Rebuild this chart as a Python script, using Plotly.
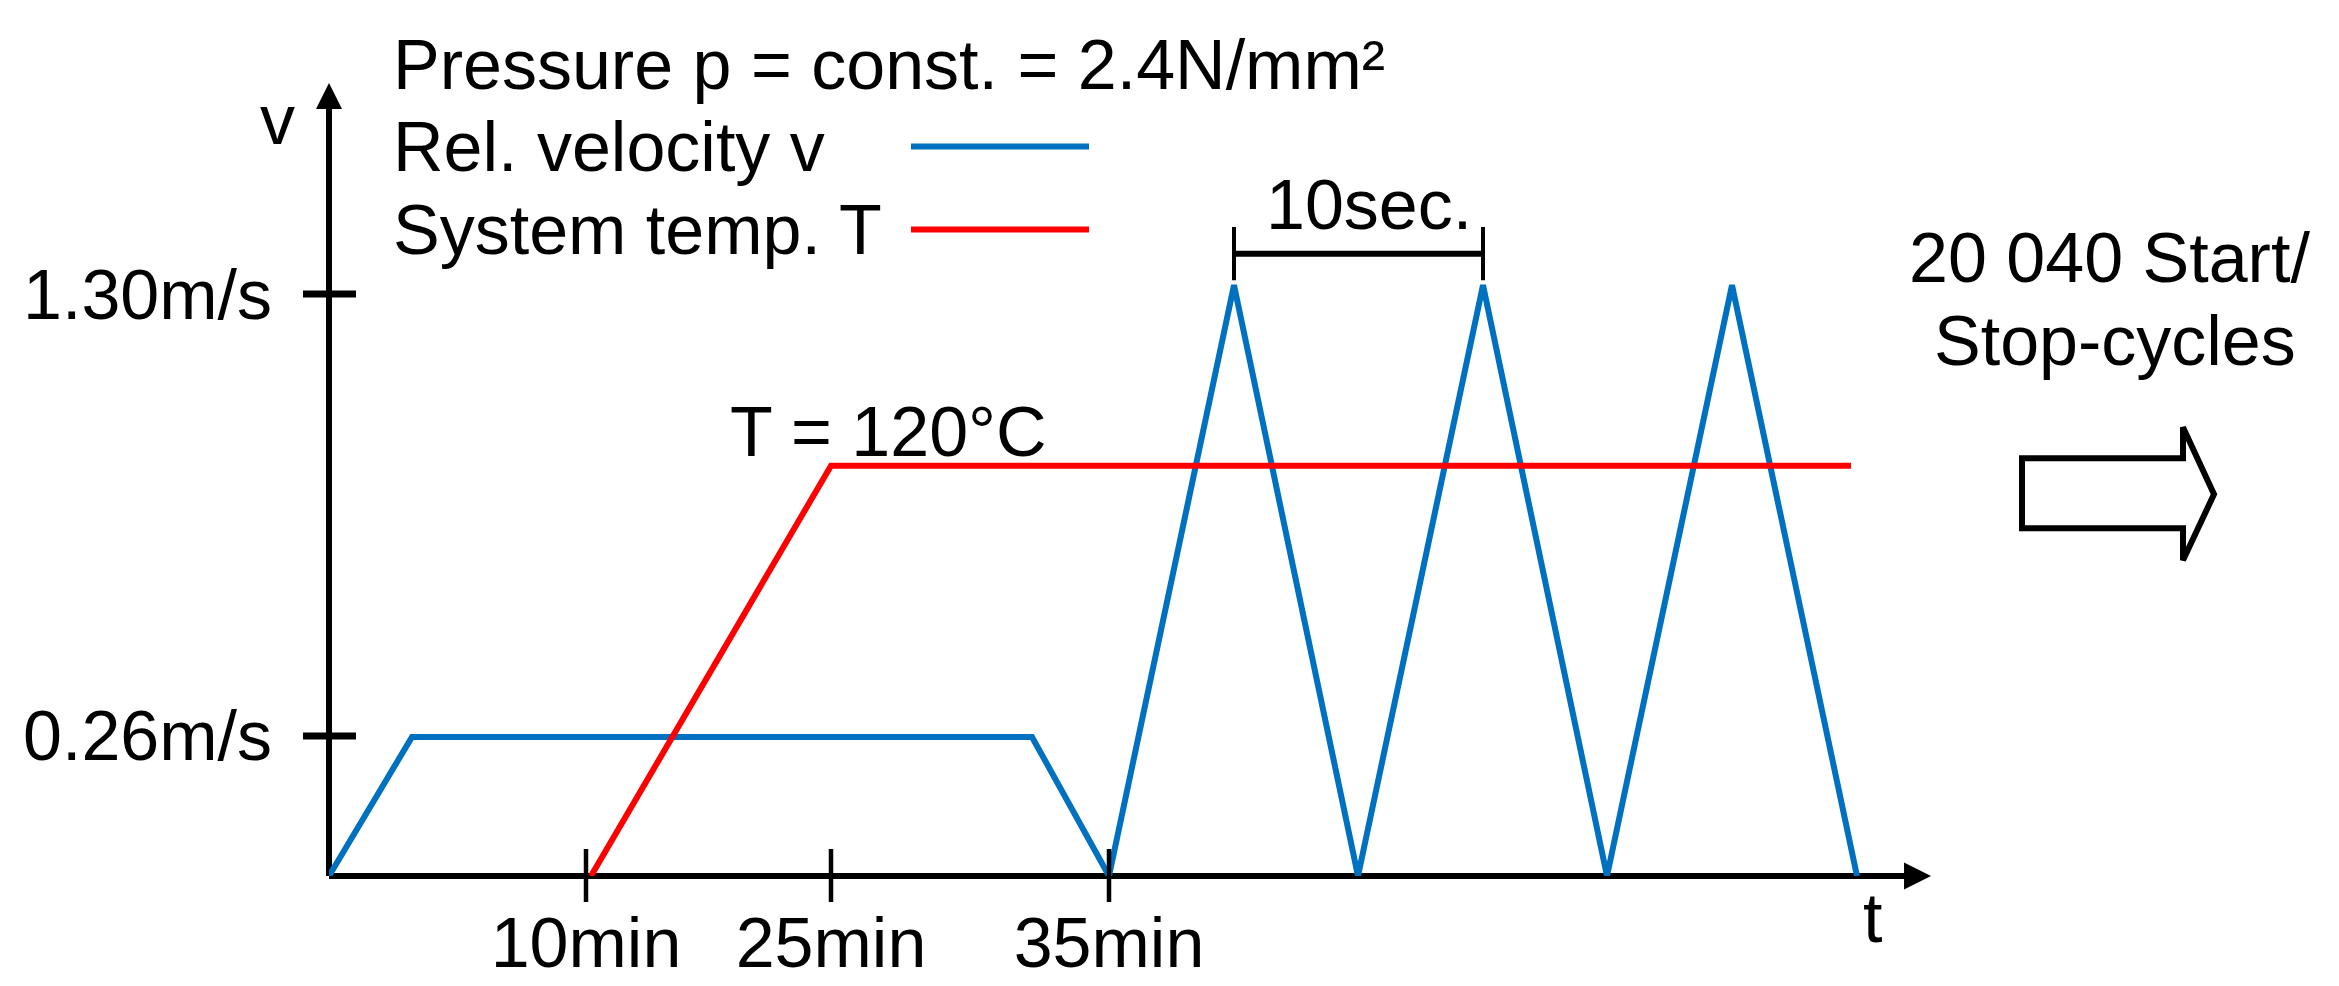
import plotly.graph_objects as go

# schematic units: 1 unit = 10 px of the original drawing
v_t = [0, 8.3, 70.3, 78.0, 90.5, 102.9, 115.4, 127.8, 140.3, 152.8]
v_level = [0, 14.1, 14.1, 0, 59.9, 0, 59.9, 0, 59.9, 0]

temp_t = [26.2, 50.2, 152.2]
temp_level = [0, 41.6, 41.6]

x_tick_pos = [25.7, 50.2, 78.0]
x_tick_text = ["10min", "25min", "35min"]
y_tick_pos = [14.2, 59.0]
y_tick_text = ["0.26m/s", "1.30m/s"]

blue = '#0070C0'
red = '#FF0000'
font_family = 'Liberation Sans, Arial, sans-serif'
fsize = 70

# plot area in figure pixels
L, R, T, B = 321, 1923, 75, 879


def px(x):
    return (x - L) / (R - L)


def py(y):
    return (B - y) / (B - T)


vel = go.Scatter(x=v_t, y=v_level, mode='lines', name='Rel. velocity v',
                 line=dict(color=blue, width=6), cliponaxis=False, showlegend=False)
temp = go.Scatter(x=temp_t, y=temp_level, mode='lines', name='System temp. T',
                  line=dict(color=red, width=6), cliponaxis=False, showlegend=False)

shapes = []
# axes
shapes.append(dict(type='line', xref='paper', yref='paper', x0=0, x1=0.99, y0=0, y1=0,
                   line=dict(color='black', width=6), layer='below'))
shapes.append(dict(type='line', xref='paper', yref='paper', x0=0, x1=0, y0=0, y1=0.98,
                   line=dict(color='black', width=6), layer='below'))
# arrow heads
shapes.append(dict(type='path', xref='paper', yref='paper', xsizemode='pixel', ysizemode='pixel',
                   xanchor=1, yanchor=0, path='M-27,13.5 L0,0 L-27,-13.5 Z',
                   fillcolor='black', line=dict(width=0)))
shapes.append(dict(type='path', xref='paper', yref='paper', xsizemode='pixel', ysizemode='pixel',
                   xanchor=0, yanchor=1, path='M-13,-26 L0,0 L13,-26 Z',
                   fillcolor='black', line=dict(width=0)))
# tick marks crossing the axes
for xt in x_tick_pos:
    shapes.append(dict(type='line', xref='x', yref='paper', ysizemode='pixel', yanchor=0,
                       x0=xt, x1=xt, y0=-26, y1=27, line=dict(color='black', width=4.5)))
for yt in y_tick_pos:
    shapes.append(dict(type='line', xref='paper', yref='y', xsizemode='pixel', xanchor=0,
                       x0=-26, x1=27, y0=yt, y1=yt, line=dict(color='black', width=7)))
# 10 sec bracket between first two peaks
p1, p2 = v_t[4], v_t[6]
shapes.append(dict(type='line', xref='x', yref='y', x0=p1, x1=p2, y0=63.1, y1=63.1,
                   line=dict(color='black', width=6)))
for p in (p1, p2):
    shapes.append(dict(type='line', xref='x', yref='y', x0=p, x1=p, y0=60.4, y1=65.8,
                       line=dict(color='black', width=4)))
# legend lines
for yy, col in ((139.5, blue), (223.5, red)):
    shapes.append(dict(type='line', xref='paper', yref='paper', x0=px(903), x1=px(1081),
                       y0=py(yy), y1=py(yy), line=dict(color=col, width=6)))
# hollow arrow on the right
shapes.append(dict(type='path', xref='paper', yref='paper', xsizemode='pixel', ysizemode='pixel',
                   xanchor=px(2014), yanchor=py(492),
                   path='M0,36 L161,36 L161,67 L192,0 L161,-66 L161,-34 L0,-34 Z',
                   fillcolor='white', line=dict(color='black', width=6)))


def note(text, x, y, anchor='center'):
    return dict(text=text, xref='paper', yref='paper', x=px(x), y=py(y),
                xanchor=anchor, yanchor='middle', showarrow=False,
                font=dict(size=fsize, color='black', family=font_family))


annotations = [
    note("Pressure p = const. = 2.4N/mm²", 383, 56.5, 'left'),
    note("Rel. velocity v", 383, 139.5, 'left'),
    note("System temp. T", 383, 224.5, 'left'),
    note("v", 269, 113),
    note("t", 1864, 922),
    note("T = 120°C", 880, 428.5),
    note("10sec.", 1361, 198.5),
    note("20 040 Start/", 2101.5, 252.5),
    note("Stop-cycles", 2106.5, 336.5),
]

layout = go.Layout(width=2339, height=986,
                   margin=dict(l=L, r=2339 - R, t=T, b=986 - B, pad=0),
                   paper_bgcolor='white',
                   plot_bgcolor='white',
                   showlegend=False,
                   font=dict(family=font_family, size=fsize, color='black'),
                   xaxis=dict(range=[0, 160.2], showgrid=False, zeroline=False, showline=False,
                              tickvals=x_tick_pos, ticktext=x_tick_text, ticks='',
                              ticklabelstandoff=20, tickfont=dict(size=fsize)),
                   yaxis=dict(range=[0, 80.4], showgrid=False, zeroline=False, showline=False,
                              tickvals=y_tick_pos, ticktext=y_tick_text, ticks='',
                              ticklabelstandoff=56, tickfont=dict(size=fsize)),
                   shapes=shapes,
                   annotations=annotations)

fig = go.Figure(data=[vel, temp], layout=layout)
fig.write_html("out.html")
